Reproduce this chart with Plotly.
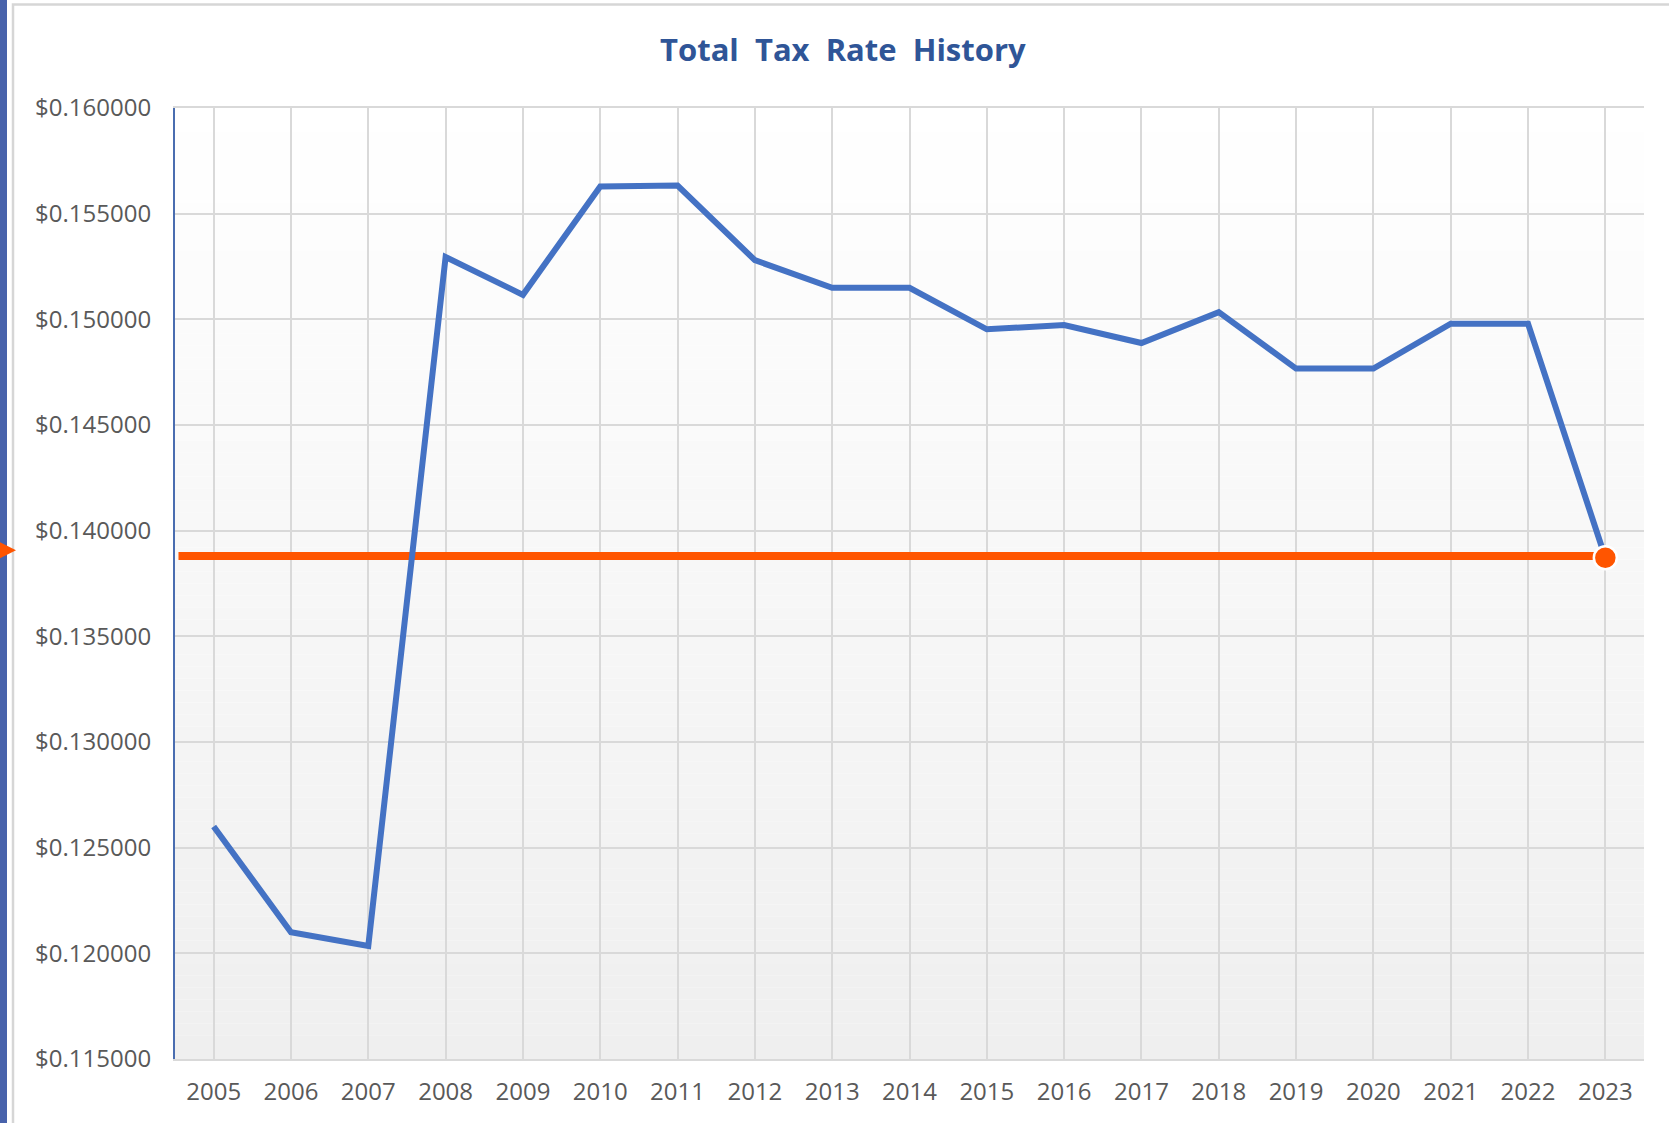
import plotly.graph_objects as go

# ---- data ----
years = list(range(2005, 2024))
tax_rates = [0.12600, 0.12100, 0.12035, 0.15295, 0.15116, 0.15629, 0.15633,
             0.15280, 0.15149, 0.15149, 0.14953, 0.14973, 0.14888, 0.15034,
             0.14767, 0.14767, 0.14979, 0.14979, 0.13872]
current_rate = 0.13880
y_ticks = [0.115, 0.120, 0.125, 0.130, 0.135, 0.140, 0.145, 0.150, 0.155, 0.160]

W, H = 1669, 1123
L, R, T, B = 175, 1644, 107.5, 1059


def px(xp):
    return (xp - L) / (R - L)


def py(yp):
    return (B - yp) / (B - T)


fig = go.Figure()

# reference line at current rate
fig.add_trace(go.Scatter(
    x=[years[0] - 0.455, years[-1]], y=[current_rate, current_rate],
    mode="lines", line=dict(color="#ff5500", width=8),
    hoverinfo="skip", showlegend=False,
))

# main series
fig.add_trace(go.Scatter(
    x=years, y=tax_rates, mode="lines",
    line=dict(color="#4472c4", width=6),
    showlegend=False,
))

# end marker
fig.add_trace(go.Scatter(
    x=[years[-1]], y=[tax_rates[-1]], mode="markers",
    marker=dict(color="#ff5500", size=23, line=dict(color="white", width=2.5)),
    showlegend=False,
))

shapes = []
# gradient plot background
n = 80
for i in range(n):
    t = (i + 0.5) / n  # 0 bottom -> 1 top
    v = int(round(239 + (255 - 239) * t))
    shapes.append(dict(type="rect", xref="x domain", yref="y domain",
                       x0=0, x1=1, y0=i / n, y1=(i + 1) / n,
                       fillcolor=f"rgb({v},{v},{v})", line=dict(width=0),
                       layer="below"))
# chart frame
shapes.append(dict(type="rect", xref="paper", yref="paper",
                   x0=px(13), x1=px(1710), y0=py(4), y1=py(1140),
                   line=dict(color="#d6d6d6", width=2.5),
                   fillcolor="rgba(0,0,0,0)", layer="below"))
# blue side bar
shapes.append(dict(type="rect", xref="paper", yref="paper",
                   x0=px(-5), x1=px(7), y0=py(-5), y1=py(1130),
                   fillcolor="#4862ab", line=dict(width=0), layer="above"))
# orange pointer triangle
shapes.append(dict(type="path", xref="paper", yref="paper",
                   path=f"M {px(0)},{py(542)} L {px(16)},{py(550)} L {px(0)},{py(558)} Z",
                   fillcolor="#ff5500", line=dict(width=0), layer="above"))

fig.update_layout(
    width=W, height=H,
    margin=dict(l=L, r=W - R, t=T, b=H - B, autoexpand=False),
    paper_bgcolor="white",
    plot_bgcolor="rgba(0,0,0,0)",
    font=dict(family="Open Sans, Noto Sans, sans-serif", color="#595959", size=24),
    title=dict(text="<b>Total  Tax  Rate  History</b>", x=0.505, xref="container",
               y=1 - 50 / H, yref="container", xanchor="center", yanchor="middle",
               font=dict(size=31, color="#2f5597", family="Open Sans, Noto Sans, sans-serif")),
    shapes=shapes,
    showlegend=False,
)

fig.update_xaxes(
    range=[years[0] - 0.5, years[-1] + 0.5],
    tickmode="array", tickvals=years, ticktext=[str(y) for y in years],
    showgrid=True, gridcolor="#d9d9d9", gridwidth=1.5,
    showline=True, linecolor="#d9d9d9", linewidth=2, mirror=True,
    ticks="", ticklabelstandoff=10, zeroline=False,
    tickfont=dict(size=24, color="#595959"),
)
fig.update_yaxes(
    range=[0.115, 0.160],
    tickmode="array", tickvals=y_ticks, ticktext=[f"${v:.6f}" for v in y_ticks],
    showgrid=True, gridcolor="#d9d9d9", gridwidth=1.5,
    showline=True, linecolor="#4a6db0", linewidth=2,
    ticks="", ticklabelstandoff=17, zeroline=False,
    tickfont=dict(size=24, color="#595959"),
)

fig.write_html("out.html", config={"displayModeBar": False},
               post_script="document.body.style.margin='0';document.body.style.overflow='hidden';")
